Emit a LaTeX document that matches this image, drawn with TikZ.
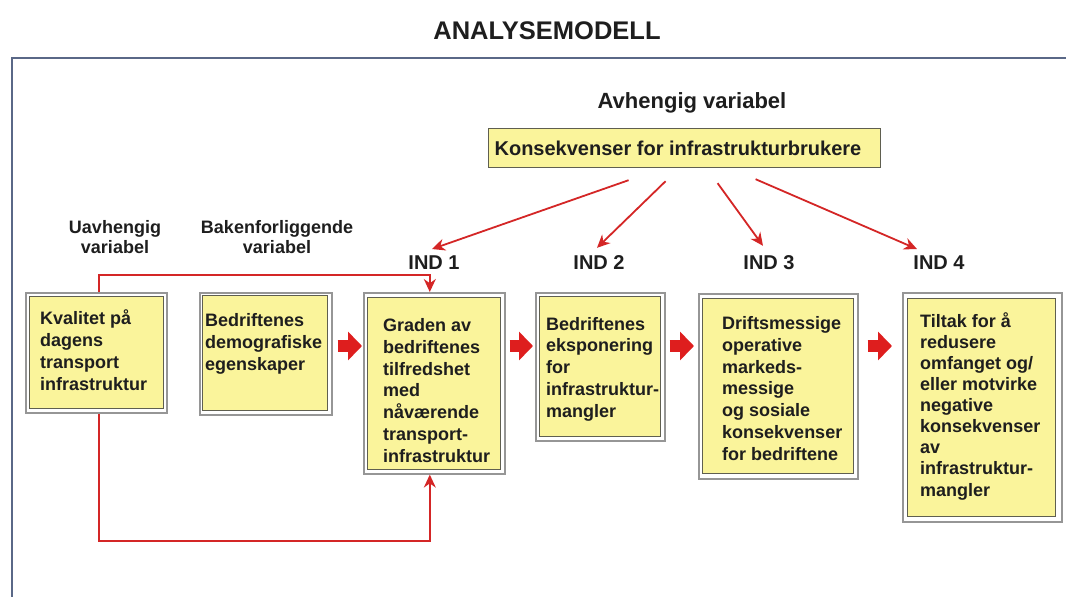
\documentclass[tikz,border=0pt]{standalone}
\usepackage{fontspec}
\setmainfont{Liberation Sans}
\usetikzlibrary{arrows.meta,calc}
\definecolor{boxyellow}{RGB}{250,244,155}
\definecolor{boxedge}{RGB}{95,95,80}
\definecolor{framegray}{RGB}{150,150,150}
\definecolor{linkred}{RGB}{212,38,38}
\definecolor{blockred}{RGB}{222,30,30}
\definecolor{txt}{RGB}{30,30,30}
\definecolor{slate}{RGB}{90,104,135}
\tikzset{
  frame/.style={draw=framegray, line width=1.6pt, fill=white, inner sep=0pt, anchor=north west},
  ybox/.style={draw=boxedge, line width=1.2pt, fill=boxyellow, inner sep=0pt, anchor=north west},
  btext/.style={text=txt, font=\bfseries\fontsize{18pt}{21.7pt}\selectfont, align=left, inner sep=0pt, anchor=base west},
  lbl/.style={text=txt, font=\bfseries\fontsize{18pt}{20pt}\selectfont, align=center, inner sep=0pt, anchor=base},
  indlbl/.style={text=txt, font=\bfseries\fontsize{20pt}{24pt}\selectfont, inner sep=0pt, anchor=base},
  link/.style={draw=linkred, line width=1.8pt, -{Stealth[length=13pt,width=12pt]}},
  block/.style={draw=blockred, line width=12pt, -{Triangle[length=14pt,width=28pt]}},
}
\begin{document}
\begin{tikzpicture}[x=1pt,y=-1pt]
\useasboundingbox (0,0) rectangle (1066,597);
\fill[white] (0,0) rectangle (1066,597);
% outer frame of the slide
\draw[slate, line width=2.5pt] (12,598) -- (12,58) -- (1067,58);
% title and headings
\node[text=txt, font=\bfseries\fontsize{25.5pt}{30pt}\selectfont, inner sep=0pt, anchor=base] (title) at (547,39) {ANALYSEMODELL};
\node[text=txt, font=\bfseries\fontsize{22pt}{26pt}\selectfont, inner sep=0pt, anchor=base] (avh) at (692,108) {Avhengig variabel};
\node[draw=boxedge, line width=1.2pt, fill=boxyellow, minimum width=392pt, minimum height=39pt, inner sep=0pt, anchor=north west] (kons) at (488,128) {};
\node[text=txt, font=\bfseries\fontsize{20pt}{24pt}\selectfont, inner sep=0pt, anchor=base] (konst) at (678,155) {Konsekvenser for infrastrukturbrukere};
\node[lbl] (uavh) at (115,253) {Uavhengig\\variabel};
\node[lbl] (bak) at (277,253) {Bakenforliggende\\variabel};
\node[indlbl] (ind1) at (434,269) {IND 1};
\node[indlbl] (ind2) at (599,269) {IND 2};
\node[indlbl] (ind3) at (769,269) {IND 3};
\node[indlbl] (ind4) at (939,269) {IND 4};
% boxes
\node[frame, minimum width=141pt, minimum height=120pt] (b1o) at (25,292) {};
\node[ybox, minimum width=134pt, minimum height=112pt] (b1) at (29,296) {};
\node[btext] (t1) at (40,390) {Kvalitet på\\dagens\\transport\\infrastruktur};
\node[frame, minimum width=132pt, minimum height=122pt] (b2o) at (199,292) {};
\node[ybox, minimum width=125pt, minimum height=115pt] (b2) at (202,295) {};
\node[btext] (t2) at (205,370) {Bedriftenes\\demografiske\\egenskaper};
\node[frame, minimum width=141pt, minimum height=181pt] (b3o) at (363,292) {};
\node[ybox, minimum width=133pt, minimum height=172pt] (b3) at (367,297) {};
\node[btext] (t3) at (383,462) {Graden av\\bedriftenes\\tilfredshet\\med\\nåværende\\transport-\\infrastruktur};
\node[frame, minimum width=129pt, minimum height=148pt] (b4o) at (535,292) {};
\node[ybox, minimum width=121pt, minimum height=140pt] (b4) at (539,296) {};
\node[btext] (t4) at (546,417) {Bedriftenes\\eksponering\\for\\infrastruktur-\\mangler};
\node[frame, minimum width=159pt, minimum height=185pt] (b5o) at (698,293) {};
\node[ybox, minimum width=151pt, minimum height=175pt] (b5) at (702,298) {};
\node[btext] (t5) at (722,460) {Driftsmessige\\operative\\markeds-\\messige\\og sosiale\\konsekvenser\\for bedriftene};
\node[frame, minimum width=159pt, minimum height=229pt] (b6o) at (902,292) {};
\node[ybox, minimum width=148pt, minimum height=218pt] (b6) at (907,298) {};
\node[btext, font=\bfseries\fontsize{18pt}{21.1pt}\selectfont] (t6) at (920,496) {Tiltak for å\\redusere\\omfanget og/\\eller motvirke\\negative\\konsekvenser\\av\\infrastruktur-\\mangler};
% block arrows
\coordinate (ay) at (0,346);
\draw[block, shorten <=5pt, shorten >=1pt] (b2o.east |- ay) -- (b3o.west |- ay);
\draw[block, shorten <=4pt, shorten >=2pt] (b3o.east |- ay) -- (b4o.west |- ay);
\draw[block, shorten <=4pt, shorten >=4pt] (b4o.east |- ay) -- (b5o.west |- ay);
\draw[block, shorten <=9pt, shorten >=10pt] (b5o.east |- ay) -- (b6o.west |- ay);
% links from independent variable to IND 1
\draw[link] ([xshift=2.5pt]b1o.north) -- ++(0,-17) -| ([xshift=-4.5pt]b3o.north);
\draw[link] ([xshift=2.5pt]b1o.south) -- ++(0,127) -| ([xshift=-4.5pt]b3o.south);
% links from dependent variable
\draw[link] ([xshift=-56pt,yshift=-12pt]kons.south) -- ([xshift=-2pt,yshift=6pt]ind1.north);
\draw[link] ([xshift=-19pt,yshift=-13pt]kons.south) -- ([xshift=-2pt,yshift=7pt]ind2.north);
\draw[link] ([xshift=33pt,yshift=-15pt]kons.south) -- ([xshift=-6pt,yshift=9pt]ind3.north);
\draw[link] ([xshift=71pt,yshift=-11pt]kons.south) -- ([xshift=-22pt,yshift=6pt]ind4.north);
\end{tikzpicture}
\end{document}
